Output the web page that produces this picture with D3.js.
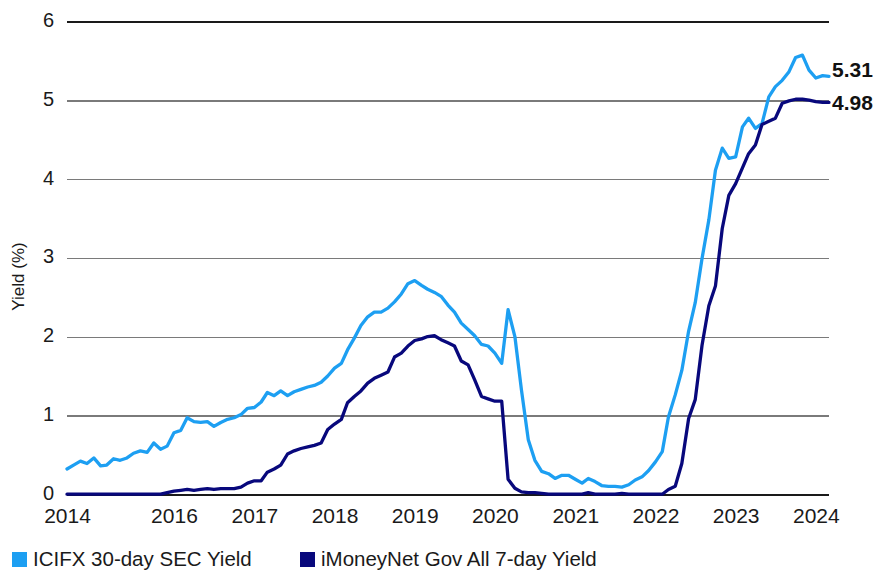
<!DOCTYPE html>
<html>
<head>
<meta charset="utf-8">
<script src="https://cdn.jsdelivr.net/npm/d3@7"></script>
<style>
  html, body { margin: 0; padding: 0; background: #fff; }
  svg { display: block; }
</style>
</head>
<body>
<svg id="chart" width="879" height="571"></svg>
<script>
// ---- Data ----
const startMonth = new Date(2014, 8, 1);   // Sep 2014
const endMonth = new Date(2024, 2, 1);     // Mar 2024
const seriesNames = ["ICIFX 30-day SEC Yield", "iMoneyNet Gov All 7-day Yield"];
const seriesColors = ["#1d9ff2", "#08087c"];

const icifxYield = [
  0.33,0.38,0.43,0.40,0.47,0.37,0.38,0.46,0.44,0.47,
  0.53,0.56,0.54,0.66,0.58,0.62,0.79,0.82,0.98,0.93,
  0.92,0.93,0.87,0.92,0.96,0.98,1.02,1.10,1.11,1.18,
  1.30,1.26,1.32,1.26,1.31,1.34,1.37,1.39,1.43,1.51,
  1.61,1.67,1.84,1.99,2.15,2.26,2.32,2.32,2.37,2.45,
  2.55,2.68,2.72,2.66,2.61,2.57,2.52,2.41,2.32,2.18,
  2.10,2.02,1.91,1.89,1.80,1.67,2.35,2.01,1.33,0.70,
  0.44,0.30,0.27,0.21,0.25,0.25,0.20,0.15,0.21,0.17,
  0.12,0.11,0.11,0.10,0.13,0.19,0.23,0.31,0.42,0.55,
  0.99,1.27,1.58,2.08,2.44,3.00,3.49,4.12,4.40,4.27,
  4.29,4.67,4.78,4.65,4.71,5.05,5.18,5.26,5.37,5.55,
  5.58,5.39,5.29,5.32,5.31
];

const imoneynetYield = [
  0.01,0.01,0.01,0.01,0.01,0.01,0.01,0.01,0.01,0.01,
  0.01,0.01,0.01,0.01,0.01,0.03,0.05,0.06,0.07,0.06,
  0.07,0.08,0.07,0.08,0.08,0.08,0.10,0.15,0.18,0.18,
  0.29,0.33,0.38,0.52,0.56,0.59,0.61,0.63,0.66,0.83,
  0.90,0.96,1.17,1.25,1.32,1.42,1.48,1.52,1.56,1.75,
  1.80,1.89,1.96,1.98,2.01,2.02,1.97,1.93,1.89,1.70,
  1.65,1.46,1.25,1.22,1.19,1.19,0.20,0.085,0.04,0.03,
  0.03,0.02,0.01,0.01,0.01,0.01,0.01,0.01,0.03,0.01,
  0.01,0.01,0.01,0.02,0.01,0.01,0.01,0.01,0.01,0.01,
  0.07,0.11,0.40,0.97,1.21,1.90,2.40,2.65,3.38,3.80,
  3.95,4.15,4.33,4.44,4.70,4.74,4.78,4.97,5.00,5.02,
  5.02,5.01,4.99,4.98,4.98
];

const yTicks = [0, 1, 2, 3, 4, 5, 6];
const xTickDates = [new Date(2014,8,1), new Date(2016,0,1), new Date(2017,0,1), new Date(2018,0,1),
  new Date(2019,0,1), new Date(2020,0,1), new Date(2021,0,1), new Date(2022,0,1),
  new Date(2023,0,1), new Date(2024,0,1)];
const xTickLabels = ["2014","2016","2017","2018","2019","2020","2021","2022","2023","2024"];
const endLabels = ["5.31", "4.98"];
const yAxisTitle = "Yield (%)";

// ---- Drawing ----
const months = d3.timeMonth.range(startMonth, d3.timeMonth.offset(endMonth, 1));
const svg = d3.select("#chart");
const W = 879, H = 571;
const margin = { left: 67, right: 50, top: 22, bottom: 76 };

const x = d3.scaleTime().domain([startMonth, endMonth]).range([margin.left, W - margin.right]);
const y = d3.scaleLinear().domain([0, 6]).range([H - margin.bottom, margin.top]);

const tickFont = "'Liberation Sans', Arial, sans-serif";

// gridlines
const grid = svg.append("g");
grid.selectAll("line").data(yTicks).join("line")
  .attr("x1", x.range()[0]).attr("x2", x.range()[1])
  .attr("y1", d => y(d)).attr("y2", d => y(d))
  .attr("stroke", d => (d === 0 || d === 6) ? "#1a1a1a" : "#7a7a7a")
  .attr("stroke-width", d => (d === 0 || d === 6) ? 1.2 : 1.4)
  .attr("shape-rendering", "crispEdges");

// y tick labels via axis
const yAxis = d3.axisLeft(y).tickValues(yTicks).tickSize(0).tickPadding(0).tickFormat(d3.format("d"));
const yg = svg.append("g").attr("transform", `translate(${margin.left - 13},-2)`).call(yAxis);
yg.select(".domain").remove();
yg.selectAll("text").attr("font-family", tickFont).attr("font-size", 20).attr("fill", "#1a1a1a");

// x tick labels via axis
const xAxis = d3.axisBottom(x).tickValues(xTickDates).tickSize(0).tickPadding(0)
  .tickFormat((d, i) => xTickLabels[i]);
const xg = svg.append("g").attr("transform", `translate(0,${H - margin.bottom + 13})`).call(xAxis);
xg.select(".domain").remove();
xg.selectAll("text").attr("font-family", tickFont).attr("font-size", 21).attr("fill", "#1a1a1a");

// y axis title
svg.append("text")
  .attr("transform", `translate(24,${(y(0) + y(6)) / 2 + 18}) rotate(-90)`)
  .attr("text-anchor", "middle")
  .attr("font-family", tickFont).attr("font-size", 17).attr("fill", "#1a1a1a")
  .text(yAxisTitle);

// lines
const line = d3.line().x((d, i) => x(months[i])).y(d => y(d)).curve(d3.curveLinear);
[icifxYield, imoneynetYield].forEach((vals, k) => {
  svg.append("path").datum(vals)
    .attr("d", line)
    .attr("fill", "none")
    .attr("stroke", seriesColors[k])
    .attr("stroke-width", 3.3)
    .attr("stroke-linejoin", "round")
    .attr("stroke-linecap", "round");
});

// end labels
const endVals = [icifxYield[icifxYield.length - 1], imoneynetYield[imoneynetYield.length - 1]];
const endDy = [-6.5, 0.5];
svg.selectAll(".endlbl").data(endLabels).join("text")
  .attr("class", "endlbl")
  .attr("x", x(endMonth) + 3)
  .attr("y", (d, i) => y(endVals[i]) + endDy[i])
  .attr("dominant-baseline", "central")
  .attr("font-family", tickFont).attr("font-weight", "bold").attr("font-size", 21)
  .attr("fill", "#111")
  .text(d => d);

// legend
const legendX = [12, 300];
const lg = svg.append("g");
seriesNames.forEach((name, k) => {
  lg.append("rect").attr("x", legendX[k]).attr("y", 552).attr("width", 15).attr("height", 15)
    .attr("fill", seriesColors[k]);
  lg.append("text").attr("x", legendX[k] + 21).attr("y", 566)
    .attr("font-family", tickFont).attr("font-size", 20.5).attr("fill", "#1a1a1a")
    .text(name);
});
</script>
</body>
</html>
